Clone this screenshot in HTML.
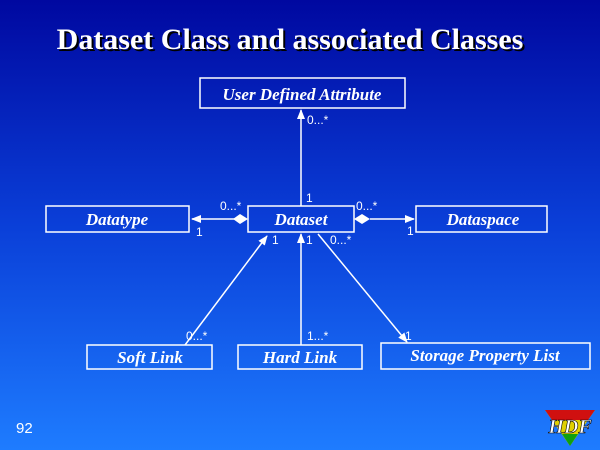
<!DOCTYPE html>
<html><head><style>
html,body{margin:0;padding:0}
body{width:600px;height:450px;overflow:hidden;background:linear-gradient(#0008a0,#0a3fd8 50%,#1e7cff);}
</style></head><body>
<svg width="600" height="450" xmlns="http://www.w3.org/2000/svg" style="position:absolute;left:0;top:0">
<defs><marker id="a" markerWidth="10" markerHeight="8" refX="9" refY="4" orient="auto" markerUnits="userSpaceOnUse"><path d="M0,0 L10,4 L0,8 Z" fill="#fff"/></marker></defs>
<text x="290" y="49" text-anchor="middle" font-family="Liberation Serif" font-weight="bold" font-size="30" fill="#fff" style="text-shadow:2px 2px 0 #000">Dataset Class and associated Classes</text>
<g fill="none" stroke="#fff" stroke-width="1.5">
<rect x="200" y="78" width="205" height="30"/>
<rect x="46" y="206" width="143" height="26"/>
<rect x="248" y="206" width="106" height="26"/>
<rect x="416" y="206" width="131" height="26"/>
<rect x="87" y="345" width="125" height="24"/>
<rect x="238" y="345" width="124" height="24"/>
<rect x="381" y="343" width="209" height="26"/>
<line x1="301" y1="206" x2="301" y2="110" marker-end="url(#a)"/>
<line x1="236" y1="219" x2="192" y2="219" marker-end="url(#a)"/>
<line x1="370" y1="219" x2="414" y2="219" marker-end="url(#a)"/>
<line x1="185" y1="345" x2="267" y2="236" marker-end="url(#a)"/>
<line x1="301" y1="345" x2="301" y2="234" marker-end="url(#a)"/>
<line x1="318" y1="234" x2="407" y2="342" marker-end="url(#a)"/>
</g>
<path d="M233,219 L240,214 L248,219 L240,224 Z" fill="#fff"/>
<path d="M354,219 L362,214 L370,219 L362,224 Z" fill="#fff"/>
<g font-family="Liberation Serif" font-weight="bold" font-style="italic" font-size="17" fill="#fff" text-anchor="middle">
<text x="302" y="100">User Defined Attribute</text>
<text x="117" y="225">Datatype</text>
<text x="301" y="225">Dataset</text>
<text x="483" y="225">Dataspace</text>
<text x="150" y="363">Soft Link</text>
<text x="300" y="363">Hard Link</text>
<text x="485" y="361">Storage Property List</text>
</g>
<g font-family="Liberation Sans" font-size="12" fill="#fff">
<text x="307" y="124">0...*</text>
<text x="306" y="202">1</text>
<text x="220" y="210">0...*</text>
<text x="196" y="236">1</text>
<text x="356" y="210">0...*</text>
<text x="407" y="235">1</text>
<text x="272" y="244">1</text>
<text x="306" y="244">1</text>
<text x="330" y="244">0...*</text>
<text x="186" y="340">0...*</text>
<text x="307" y="340">1...*</text>
<text x="405" y="340">1</text>
<text x="16" y="433" font-size="15">92</text>
</g>
<path d="M545,410 L595,410 L570,446 Z" fill="#e0d000"/>
<path d="M545,410 L595,410 L588,420 L552,420 Z" fill="#d01010"/>
<path d="M562,434 L578,434 L570,446 Z" fill="#10a010"/>
<text x="570" y="433" text-anchor="middle" font-family="Liberation Serif" font-weight="bold" font-style="italic" font-size="20" fill="#fff" stroke="#000" stroke-width="0.6">HDF</text>
</svg>
</body></html>
